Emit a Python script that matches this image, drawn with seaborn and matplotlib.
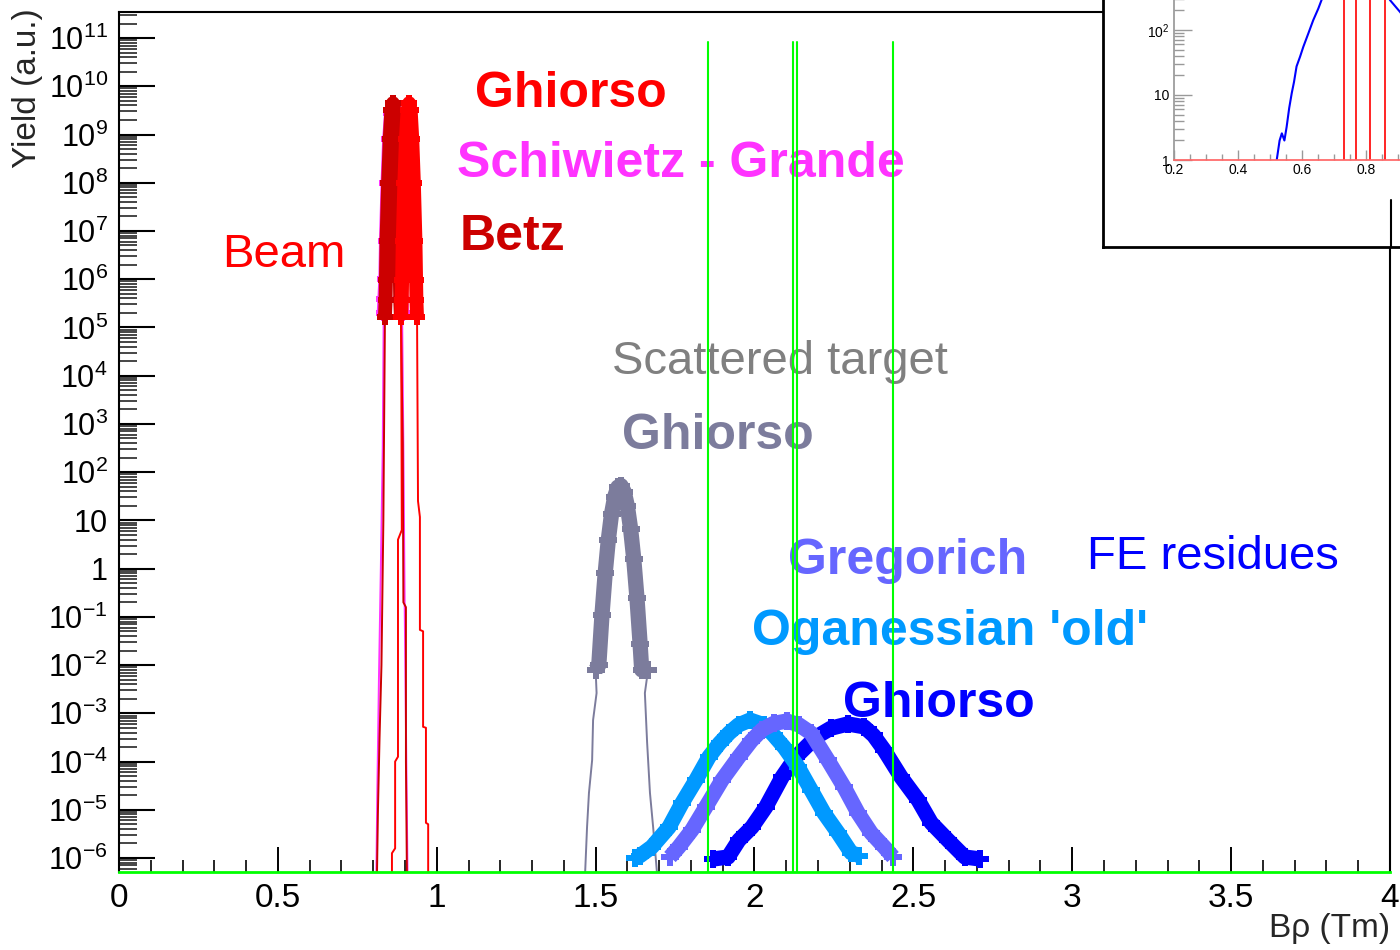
#!/usr/bin/env python3
import numpy as np
import pandas as pd
import seaborn as sns
import matplotlib.pyplot as plt
from matplotlib.lines import Line2D
from matplotlib.ticker import (LogLocator, FuncFormatter, MultipleLocator,
                               FixedLocator, NullFormatter)

# --- beam (log10 yield) ---
schiwietz_x = [0.833, 0.835, 0.838, 0.840, 0.845, 0.850, 0.856, 0.862, 0.868, 0.874, 0.879, 0.884, 0.887, 0.889, 0.891]
schiwietz_log = [5.3, 5.6, 6.0, 6.8, 8.0, 8.9, 9.45, 9.6, 9.45, 8.9, 8.0, 6.8, 6.0, 5.6, 5.3]
schiwietz_left_x = [0.810, 0.813, 0.818, 0.824, 0.830]
schiwietz_left_log = [-6.3, -4.6, -2.3, 0.0, 2.5]
schiwietz_right_x = [0.895, 0.899, 0.905, 0.908]
schiwietz_right_log = [2.5, -0.7, -4.5, -6.3]

betz_x = [0.837, 0.839, 0.840, 0.842, 0.847, 0.852, 0.857, 0.862, 0.867, 0.872, 0.877, 0.882, 0.884, 0.885, 0.887]
betz_log = [5.22, 5.57, 5.98, 6.8, 8.0, 8.9, 9.5, 9.65, 9.5, 8.9, 8.0, 6.8, 5.98, 5.57, 5.22]
betz_left_x = [0.812, 0.815, 0.820, 0.826, 0.832]
betz_left_log = [-6.3, -5.0, -3.5, -2.0, 1.0]
betz_right_x = [0.893, 0.895, 0.903, 0.903, 0.906]
betz_right_log = [2.6, -0.7, -0.8, -4.0, -6.3]

ghiorso_beam_x = [0.888, 0.890, 0.891, 0.893, 0.898, 0.903, 0.908, 0.913, 0.918, 0.923, 0.928, 0.933, 0.935, 0.936, 0.938]
ghiorso_beam_log = [5.22, 5.57, 5.98, 6.8, 8.0, 8.9, 9.5, 9.65, 9.5, 8.9, 8.0, 6.8, 5.98, 5.57, 5.22]
ghiorso_beam_left_x = [0.859, 0.859, 0.869, 0.869, 0.878, 0.878, 0.890]
ghiorso_beam_left_log = [-6.3, -5.9, -5.8, -4.0, -3.9, 0.6, 0.8]
ghiorso_beam_right_x = [0.941, 0.947, 0.947, 0.957, 0.957, 0.966, 0.966, 0.973, 0.973]
ghiorso_beam_right_log = [1.4, 1.07, -1.27, -1.3, -3.28, -3.3, -5.27, -5.3, -6.3]

# --- scattered target ---
target_x = [1.500, 1.510, 1.520, 1.530, 1.540, 1.550, 1.560, 1.570, 1.580, 1.590, 1.600, 1.610, 1.620, 1.630, 1.640, 1.645, 1.655, 1.665]
target_log = [-2.1, -2.0, -0.96, -0.10, 0.60, 1.13, 1.49, 1.69, 1.72, 1.59, 1.29, 0.83, 0.20, -0.60, -1.56, -2.1, -2.1, -2.1]
target_left_x = [1.467, 1.473, 1.479, 1.489, 1.492, 1.503]
target_left_log = [-6.3, -5.36, -4.65, -3.97, -3.14, -2.58]
target_right_x = [1.655, 1.662, 1.671, 1.681, 1.693]
target_right_log = [-2.58, -3.6, -4.65, -5.36, -6.3]

# --- fusion-evaporation residues ---
oganessian_x = [1.624, 1.640, 1.677, 1.731, 1.772, 1.816, 1.857, 1.890, 1.920, 1.950, 1.986, 2.030, 2.060, 2.093, 2.137, 2.178, 2.219, 2.263, 2.304, 2.330]
oganessian_log = [-6.0, -5.95, -5.77, -5.36, -4.86, -4.38, -3.90, -3.62, -3.41, -3.24, -3.14, -3.24, -3.45, -3.70, -4.11, -4.59, -5.07, -5.48, -5.89, -5.95]

gregorich_x = [1.734, 1.762, 1.803, 1.847, 1.898, 1.951, 1.990, 2.024, 2.060, 2.102, 2.140, 2.178, 2.231, 2.282, 2.326, 2.367, 2.408, 2.436]
gregorich_log = [-5.98, -5.77, -5.42, -4.94, -4.38, -3.90, -3.57, -3.34, -3.21, -3.16, -3.24, -3.41, -3.97, -4.53, -5.07, -5.48, -5.77, -5.98]

ghiorso_fe_x = [1.870, 1.917, 1.951, 1.992, 2.036, 2.087, 2.131, 2.194, 2.240, 2.294, 2.345, 2.375, 2.408, 2.461, 2.515, 2.556, 2.609, 2.662, 2.710]
ghiorso_fe_log = [-6.02, -5.98, -5.63, -5.36, -4.94, -4.32, -3.90, -3.49, -3.31, -3.22, -3.28, -3.46, -3.76, -4.32, -4.80, -5.27, -5.63, -5.98, -6.02]

green_lines_x = [1.854, 2.121, 2.134, 2.436]

# --- inset ---
inset_x = [0.521, 0.530, 0.537, 0.545, 0.552, 0.560, 0.568, 0.575, 0.583, 0.594, 0.604, 0.620, 0.635, 0.651, 0.661, 0.700, 0.850, 0.875, 0.906, 0.950]
inset_log = [0.0, 0.3, 0.41, 0.3, 0.51, 0.8, 1.03, 1.2, 1.44, 1.59, 1.74, 1.95, 2.15, 2.33, 2.46, 3.0, 2.7, 2.46, 2.28, 2.0]
inset_red_x = [0.731, 0.769, 0.813, 0.860]
inset_xticks = [0.2, 0.4, 0.6, 0.8]
inset_yticks = [1, 10, 100]

sns.set_theme(style="white")
plt.rcParams["font.family"] = ["Liberation Sans", "DejaVu Sans"]
plt.rcParams["mathtext.fontset"] = "custom"
plt.rcParams["mathtext.rm"] = "Liberation Sans"
plt.rcParams["mathtext.it"] = "Liberation Sans:italic"
plt.rcParams["mathtext.bf"] = "Liberation Sans:bold"


def draw_peak(ax, bx, blog, color, z, left=None, right=None, lw=10, ms=11):
    if left is not None:
        tx = list(left[0]) + list(bx) + list(right[0])
        tl = list(left[1]) + list(blog) + list(right[1])
        thin = pd.DataFrame({"x": tx, "y": 10.0 ** np.array(tl)})
        sns.lineplot(data=thin, x="x", y="y", ax=ax, color=color, lw=1.4,
                     sort=False, estimator=None, zorder=z)
    band = pd.DataFrame({"x": bx, "y": 10.0 ** np.array(blog)})
    sns.lineplot(data=band, x="x", y="y", ax=ax, color=color, lw=lw,
                 sort=False, estimator=None, marker="P", markersize=ms,
                 markeredgewidth=0, solid_joinstyle="round",
                 solid_capstyle="butt", zorder=z + 0.5)


def yfmt(v, pos):
    e = int(round(np.log10(v)))
    if e == 0:
        return "1"
    if e == 1:
        return "10"
    return rf"$10^{{{e}}}$"


fig = plt.figure(figsize=(14, 9.5), dpi=100)
ax = fig.add_axes([119 / 1400, 78 / 950, 1271 / 1400, 860 / 950])
ax.set_yscale("log")

draw_peak(ax, schiwietz_x, schiwietz_log, "#ff33ff", 2,
          (schiwietz_left_x, schiwietz_left_log), (schiwietz_right_x, schiwietz_right_log))
draw_peak(ax, betz_x, betz_log, "#cc0000", 3,
          (betz_left_x, betz_left_log), (betz_right_x, betz_right_log))
draw_peak(ax, ghiorso_beam_x, ghiorso_beam_log, "#ff0000", 4,
          (ghiorso_beam_left_x, ghiorso_beam_left_log), (ghiorso_beam_right_x, ghiorso_beam_right_log))
draw_peak(ax, target_x, target_log, "#7c7c9c", 2,
          (target_left_x, target_left_log), (target_right_x, target_right_log), lw=11, ms=13)
draw_peak(ax, ghiorso_fe_x, ghiorso_fe_log, "#0000ff", 2, lw=11, ms=13)
draw_peak(ax, oganessian_x, oganessian_log, "#0099ff", 3, lw=11, ms=13)
draw_peak(ax, gregorich_x, gregorich_log, "#6666ff", 4, lw=11, ms=13)

for gx in green_lines_x:
    ax.axvline(gx, ymin=0, ymax=0.965, color="#00ff00", lw=1.5, zorder=8)

labels = [
    ("Ghiorso", 1.12, 9.57, "#ff0000", "bold", 36),
    ("Schiwietz - Grande", 1.064, 8.12, "#ff33ff", "bold", 36),
    ("Betz", 1.073, 6.61, "#cc0000", "bold", 36),
    ("Beam", 0.324, 6.25, "#ff0000", "normal", 34),
    ("Scattered target", 1.551, 4.03, "#808080", "normal", 34),
    ("Ghiorso", 1.583, 2.48, "#7c7c9c", "bold", 36),
    ("Gregorich", 2.105, -0.11, "#6666ff", "bold", 36),
    ("FE residues", 3.046, -0.01, "#0000ff", "normal", 34),
    ("Oganessian 'old'", 1.992, -1.58, "#0099ff", "bold", 36),
    ("Ghiorso", 2.279, -3.08, "#0000ff", "bold", 36),
]
for txt, lx, ly, c, w, fs in labels:
    ax.text(lx, 10 ** ly, txt, color=c, fontweight=w, fontsize=fs, va="baseline", zorder=6)

ax.set_xlim(0, 4)
ax.set_ylim(10 ** -6.29, 10 ** 11.54)
ax.set_xlabel("")
ax.set_ylabel("")
ax.xaxis.set_major_locator(MultipleLocator(0.5))
ax.xaxis.set_minor_locator(MultipleLocator(0.1))
ax.xaxis.set_major_formatter(FuncFormatter(lambda v, p: f"{v:g}"))
ax.yaxis.set_major_locator(LogLocator(base=10, numticks=40))
ax.yaxis.set_minor_locator(LogLocator(base=10, subs=np.arange(2, 10), numticks=400))
ax.yaxis.set_major_formatter(FuncFormatter(yfmt))
ax.yaxis.set_minor_formatter(NullFormatter())
ax.tick_params(axis="x", which="major", direction="in", length=18, width=1.4,
               bottom=True, labelsize=24, pad=8, colors="black")
ax.tick_params(axis="x", which="minor", direction="in", length=9, width=1.4, bottom=True)
ax.tick_params(axis="y", which="major", direction="in", length=26, width=1.5,
               left=True, labelsize=22, pad=8, colors="black")
ax.tick_params(axis="y", which="minor", direction="in", length=13, width=1.2, left=True)
for s in ["left", "top", "right"]:
    ax.spines[s].set_color("black")
    ax.spines[s].set_linewidth(1.5)
ax.spines["bottom"].set_color("#00ff00")
ax.spines["bottom"].set_linewidth(2)
ax.spines["bottom"].set_zorder(9)

fig.text(28 / 1400, 1 - 8 / 950, "Yield (a.u.)", rotation=90, ha="center", va="top", fontsize=24)
fig.text(1390 / 1400, 1 - 928 / 950, "Bρ (Tm)", ha="right", va="center", fontsize=24)

# inset pad (cropped by the canvas edge)
box = fig.add_axes([1103 / 1400, 1 - 247 / 950, 0.3, 0.3], zorder=5)
box.set_facecolor("white")
box.set_xticks([])
box.set_yticks([])
for s in box.spines.values():
    s.set_color("black")
    s.set_linewidth(2)

ins = fig.add_axes([1174 / 1400, 1 - 160 / 950, 320 / 1400, 260 / 950], zorder=6)
ins.patch.set_alpha(0)
ins.set_yscale("log")
inset_df = pd.DataFrame({"x": inset_x, "y": 10.0 ** np.array(inset_log)})
sns.lineplot(data=inset_df, x="x", y="y", ax=ins, color="#0000ff", lw=1.5, sort=False, estimator=None)
for rx in inset_red_x:
    ins.axvline(rx, color="#ff0000", lw=1.2)
ins.set_xlim(0.2, 1.2)
ins.set_ylim(1, 1e4)
ins.set_xlabel("")
ins.set_ylabel("")
ins.xaxis.set_major_locator(FixedLocator(inset_xticks))
ins.xaxis.set_minor_locator(MultipleLocator(0.05))
ins.xaxis.set_major_formatter(FuncFormatter(lambda v, p: f"{v:.1f}"))
ins.yaxis.set_major_locator(FixedLocator(inset_yticks))
ins.yaxis.set_minor_locator(LogLocator(base=10, subs=np.arange(2, 10), numticks=100))
ins.yaxis.set_major_formatter(FuncFormatter(yfmt))
ins.yaxis.set_minor_formatter(NullFormatter())
ins.tick_params(axis="x", which="major", direction="in", length=7, width=1, color="#999999",
                bottom=True, labelsize=10, pad=2, labelcolor="black")
ins.tick_params(axis="x", which="minor", direction="in", length=4, width=1, color="#999999", bottom=True)
ins.tick_params(axis="y", which="major", direction="in", length=13, width=1, color="#999999",
                left=True, labelsize=10, pad=3, labelcolor="black")
ins.tick_params(axis="y", which="minor", direction="in", length=7, width=1, color="#999999", left=True)
ins.spines["bottom"].set_color("#ff6666")
ins.spines["left"].set_color("#999999")
ins.spines["top"].set_visible(False)
ins.spines["right"].set_visible(False)

# piece of the main frame that shows through the inset pad
fig.add_artist(Line2D([1391 / 1400, 1391 / 1400], [1 - 200 / 950, 1 - 247 / 950],
                      color="black", lw=1.5, zorder=7))

fig.savefig("out.png", dpi=100)
